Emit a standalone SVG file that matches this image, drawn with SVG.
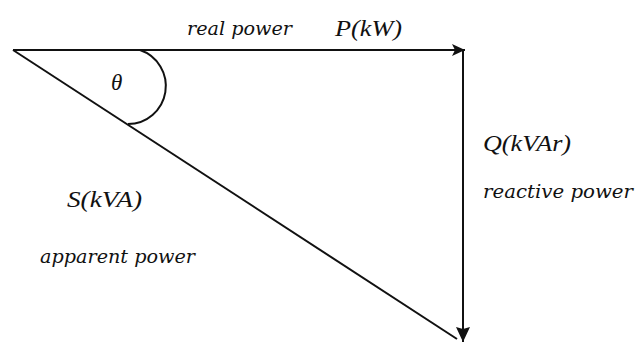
<svg xmlns="http://www.w3.org/2000/svg" width="635" height="343" viewBox="0 0 635 343">
<style>
.ln{stroke:#111;stroke-width:2;fill:none;stroke-linecap:butt}
.lbl{font-family:"DejaVu Serif","Liberation Serif",serif;font-style:italic;font-size:19px;fill:#111}
.math{font-family:"Liberation Serif","Times New Roman",serif;font-style:italic;font-size:23px;fill:#111}
</style>
<defs>
<marker id="ah" markerUnits="userSpaceOnUse" markerWidth="14" markerHeight="12" refX="13" refY="6" orient="auto">
<path d="M0,0 L13,6 L0,12 L3,6 Z" fill="#111"/>
</marker>
<marker id="ah2" markerUnits="userSpaceOnUse" markerWidth="16" markerHeight="14" refX="15" refY="7" orient="auto">
<path d="M0,0 L15,7 L0,14 L2,7 Z" fill="#111"/>
</marker>
</defs>
<rect width="635" height="343" fill="#fff"/>
<g id="connectors">
<line id="real" class="ln" x1="13" y1="50" x2="465" y2="50" marker-end="url(#ah)"/>
<line id="reactive" class="ln" x1="463" y1="49" x2="463" y2="342" marker-end="url(#ah2)"/>
<line id="apparent" class="ln" x1="13" y1="50" x2="457" y2="339"/>
<path id="angle" class="ln" d="M140,50 A38,38 0 0 1 128,124"/>
</g>
<g id="theta"><text class="math" x="111" y="90">θ</text></g>
<g id="P-label">
<text class="lbl" x="187" y="35" textLength="105" lengthAdjust="spacingAndGlyphs">real power</text>
<text class="math" x="335" y="36" textLength="67" lengthAdjust="spacingAndGlyphs">P(kW)</text>
</g>
<g id="Q-label">
<text class="math" x="483" y="151" textLength="88" lengthAdjust="spacingAndGlyphs">Q(kVAr)</text>
<text class="lbl" x="483" y="198" textLength="150" lengthAdjust="spacingAndGlyphs">reactive power</text>
</g>
<g id="S-label">
<text class="math" x="67" y="207" textLength="75" lengthAdjust="spacingAndGlyphs">S(kVA)</text>
<text class="lbl" x="40" y="263" textLength="155" lengthAdjust="spacingAndGlyphs">apparent power</text>
</g>
</svg>
